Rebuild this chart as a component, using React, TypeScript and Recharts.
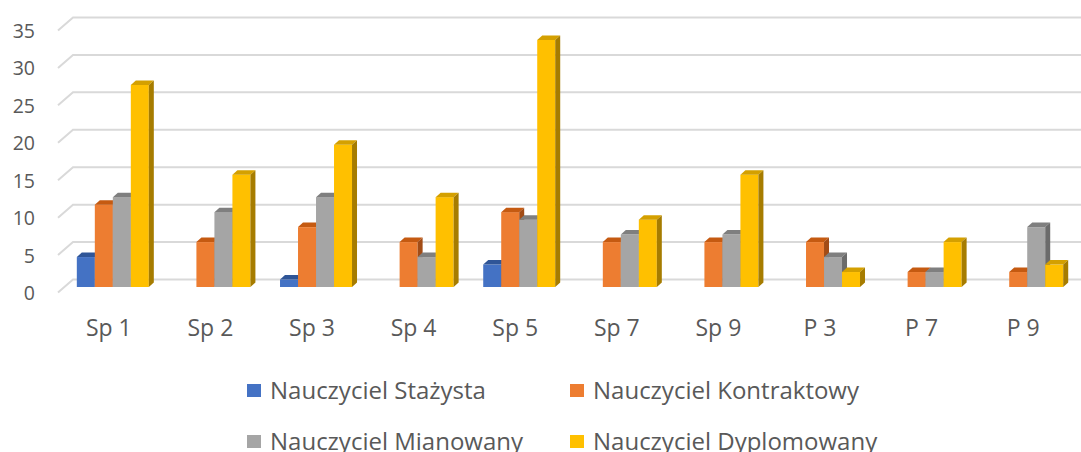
import { BarChart, Bar, XAxis, YAxis, CartesianGrid } from "recharts";

const schools = ["Sp 1", "Sp 2", "Sp 3", "Sp 4", "Sp 5", "Sp 7", "Sp 9", "P 3", "P 7", "P 9"];
const stazysta = [4, 0, 1, 0, 3, 0, 0, 0, 0, 0];
const kontraktowy = [11, 6, 8, 6, 10, 6, 6, 6, 2, 2];
const mianowany = [12, 10, 12, 4, 9, 7, 7, 4, 2, 8];
const dyplomowany = [27, 15, 19, 12, 33, 9, 15, 2, 6, 3];
const yTicks = [0, 5, 10, 15, 20, 25, 30, 35];

const FONT = "'Open Sans', 'Noto Sans', sans-serif";
const TEXT = "#595959";

// front / top / side shades, like the old excel 3d columns
const SERIES = [
  { key: "stazysta", name: "Nauczyciel Stażysta", front: "#4472C4", top: "#2F5597", side: "#2A4D8C" },
  { key: "kontraktowy", name: "Nauczyciel Kontraktowy", front: "#ED7D31", top: "#C55A11", side: "#A24C16" },
  { key: "mianowany", name: "Nauczyciel Mianowany", front: "#A5A5A5", top: "#7F7F7F", side: "#6B6B6B" },
  { key: "dyplomowany", name: "Nauczyciel Dyplomowany", front: "#FFC000", top: "#D4A000", side: "#A67C00" },
];

const data = schools.map((name, i) => ({
  name,
  stazysta: stazysta[i],
  kontraktowy: kontraktowy[i],
  mianowany: mianowany[i],
  dyplomowany: dyplomowany[i],
}));

const DX = 5;
const DY = 4.5;

function makeBox(s: typeof SERIES[number]) {
  return (p: any) => {
    const { x, y, width: w, height: h } = p;
    if (!h || h <= 0) return <g />;
    return (
      <g>
        <rect x={x} y={y} width={w} height={h} fill={s.front} />
        <path d={`M${x},${y} L${x + DX},${y - DY} L${x + w + DX},${y - DY} L${x + w},${y} Z`} fill={s.top} />
        <path d={`M${x + w},${y} L${x + w + DX},${y - DY} L${x + w + DX},${y + h - DY} L${x + w},${y + h} Z`} fill={s.side} />
      </g>
    );
  };
}

// gridline with the little diagonal "wall" bit on the left
const gridLine = (p: any) => {
  const { x1, x2, y1 } = p;
  return (
    <path
      key={`g-${y1}`}
      d={`M${x1 - 5},${y1 + 5.5} L${x1 + 10},${y1 - 7.5} L${x2 + 4},${y1 - 7.5}`}
      stroke="#D9D9D9"
      strokeWidth={2}
      fill="none"
    />
  );
};

const YTick = (p: any) => (
  <text x={35} y={p.y + 5.5} textAnchor="end" dominantBaseline="central" fill={TEXT} fontSize={19.5} fontFamily={FONT}>
    {p.payload.value}
  </text>
);

const XTick = (p: any) => (
  <text x={p.x - 5} y={336} textAnchor="middle" fill={TEXT} fontSize={23} fontFamily={FONT}>
    {p.payload.value}
  </text>
);

const legendPos = [
  { left: 247, top: 383 },
  { left: 570, top: 383 },
  { left: 247, top: 434 },
  { left: 570, top: 434 },
];

export default function App() {
  return (
    <div style={{ position: "absolute", left: 0, top: 0, width: 1081, height: 452, background: "#fff", overflow: "hidden" }}>
      <BarChart
        width={1081}
        height={452}
        data={data}
        margin={{ top: 25, right: 2, left: 0, bottom: 0 }}
        barCategoryGap="13.6%"
        barGap={0}
      >
        <CartesianGrid vertical={false} horizontal={gridLine} />
        <XAxis dataKey="name" height={165} axisLine={false} tickLine={false} tick={<XTick />} interval={0} />
        <YAxis width={63} domain={[0, 35]} ticks={yTicks} axisLine={false} tickLine={false} tick={<YTick />} />
        {SERIES.map((s) => (
          <Bar key={s.key} dataKey={s.key} name={s.name} fill={s.front} shape={makeBox(s)} isAnimationActive={false} />
        ))}
      </BarChart>
      {SERIES.map((s, i) => (
        <div
          key={s.key}
          style={{
            position: "absolute",
            left: legendPos[i].left,
            top: legendPos[i].top,
            display: "flex",
            alignItems: "center",
            fontFamily: FONT,
            fontSize: 24,
            color: TEXT,
            whiteSpace: "nowrap",
            lineHeight: "14px",
          }}
        >
          <span style={{ width: 14, height: 13, background: s.front, marginRight: 9, display: "inline-block" }} />
          {s.name}
        </div>
      ))}
    </div>
  );
}
